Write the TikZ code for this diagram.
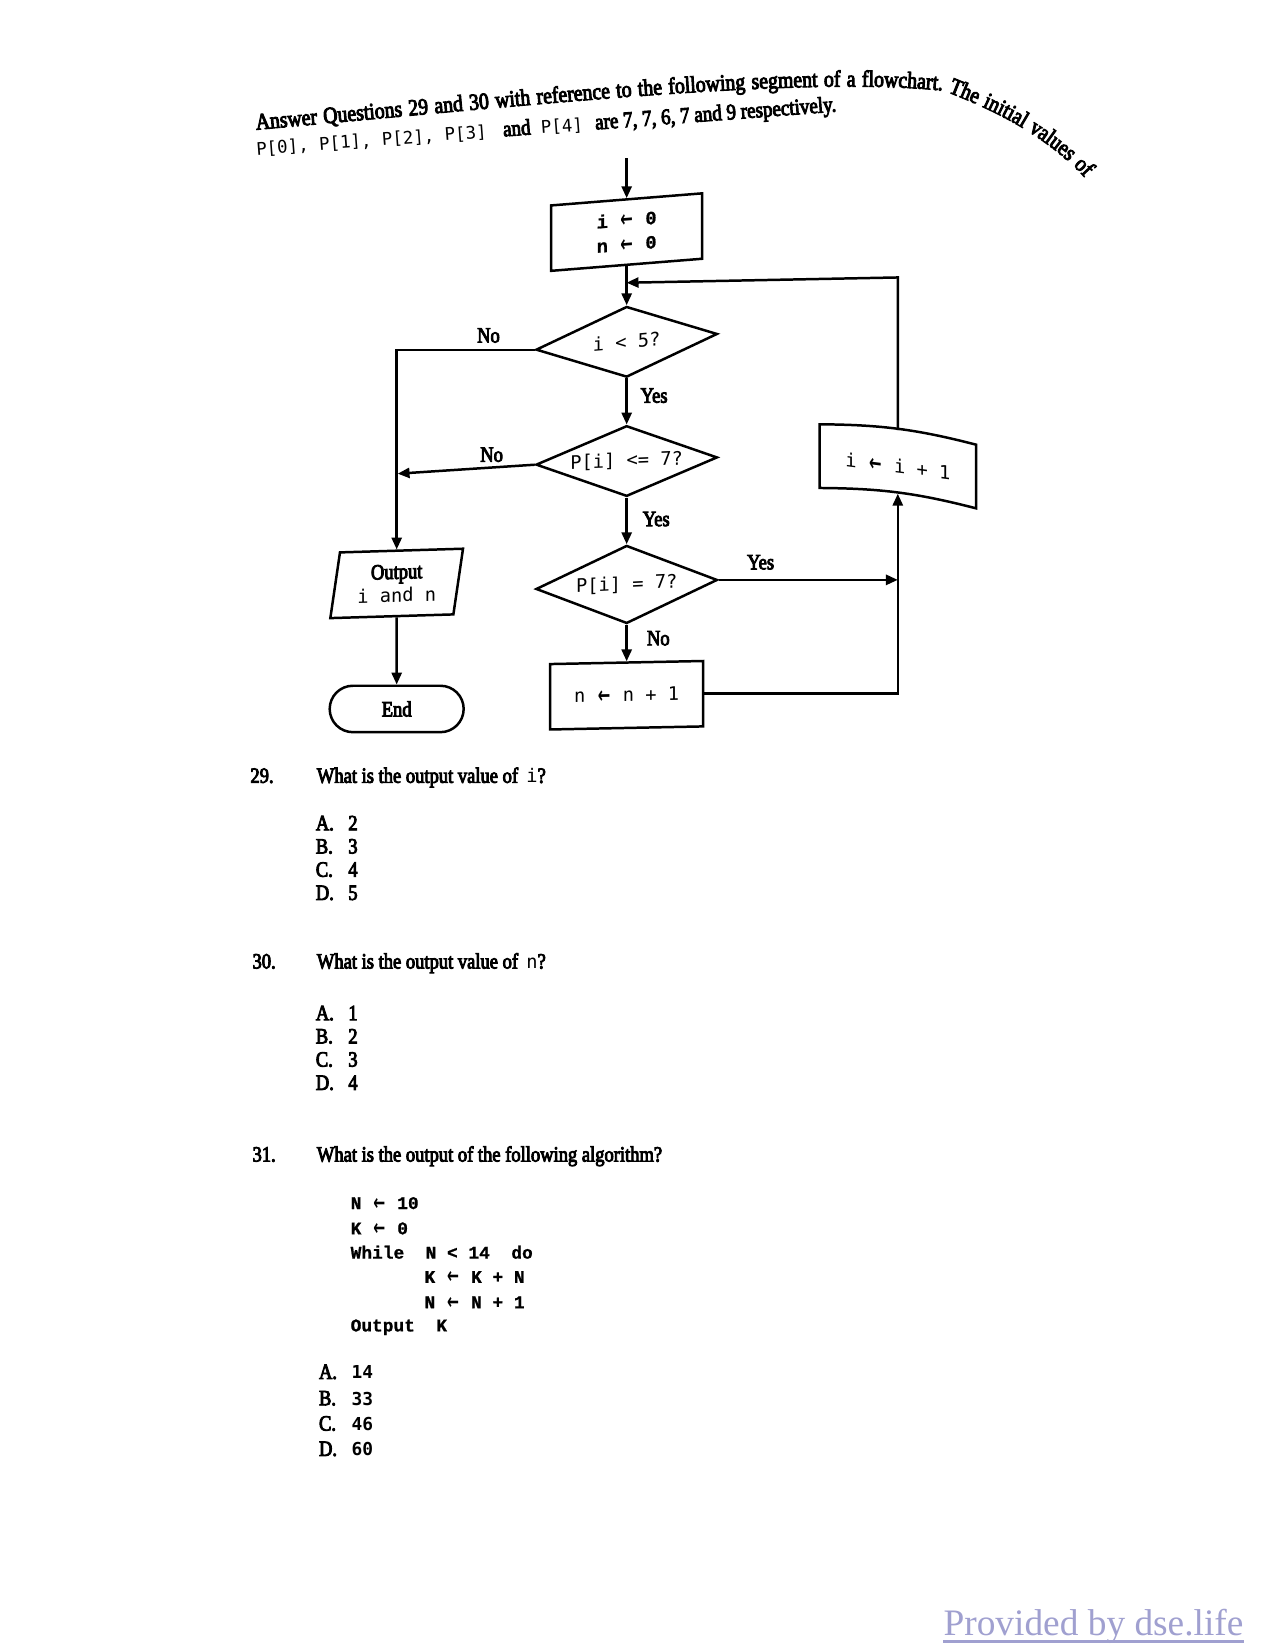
\documentclass[tikz,border=0pt]{standalone}
\usepackage{fontspec}
\usepackage{graphicx}
\setmainfont[FakeStretch=0.85,FakeBold=4]{Liberation Serif}
\newfontfamily\mono{DejaVu Sans Mono}
\newfontfamily\cmono[FakeBold=1]{Liberation Mono}
\newfontfamily\arrfont{DejaVu Sans}
\newfontfamily\footfont{Liberation Serif}
\usetikzlibrary{arrows.meta,shapes.geometric,shapes.misc,decorations.text}
\def\PX{0.17865mm}
\newcommand\la{\hspace{0.6pt}\raisebox{-0.5pt}{\scalebox{0.8}[1.25]{\arrfont\bfseries ←}}\hspace{0.6pt}}
\definecolor{footcol}{RGB}{160,160,208}
\tikzset{
  flow/.style={line width=1.2pt, black},
  arr/.style={flow, -{Triangle[length=2mm,width=1.7mm]}},
  procbox/.style={draw, flow, rectangle, minimum width=145*\PX, minimum height=62*\PX, inner sep=0pt, font=\mono\fontsize{9}{11.7}\selectfont, align=center},
  decision/.style={draw, flow, diamond, aspect=2.57, minimum width=172*\PX, minimum height=67*\PX, inner sep=0pt, font=\mono\fontsize{9}{11}\selectfont},
  iobox/.style={draw, flow, trapezium, trapezium left angle=80, trapezium right angle=100, trapezium stretches=true, minimum width=126*\PX, minimum height=62*\PX, inner sep=0pt, align=center, font=\fontsize{10.5}{11.2}\selectfont},
  terminal/.style={draw, flow, rounded rectangle, minimum width=127*\PX, minimum height=44*\PX, inner sep=0pt, font=\fontsize{10.5}{12}\selectfont},
  lbl/.style={font=\fontsize{10.5}{12}\selectfont, inner sep=0pt},
  qtext/.style={anchor=base west, inner sep=0pt, font=\fontsize{10.5}{12}\selectfont},
  codeline/.style={anchor=base west, inner sep=0pt, font=\cmono\bfseries\fontsize{8.6}{10}\selectfont},
}
\begin{document}
\begin{tikzpicture}[x=\PX,y=-\PX]
\fill[white] (0,0) rectangle (1208.5,1564);
\useasboundingbox (0,0) rectangle (1208.5,1564);

% header, line 1 (curled)
\path[decorate, decoration={text along path, text align={fit to path stretching spaces},
  text={|\fontsize{11.2}{13}\selectfont|Answer Questions 29 and 30 with reference to the following segment of a flowchart. The initial values of}}]
  (243,123) .. controls (520,98) and (760,72) .. (895,86) .. controls (930,100) and (985,122) .. (1028,168);
% header, line 2
\node[anchor=base west, rotate=4.3, inner sep=0pt, font=\fontsize{10.8}{13}\selectfont] (hdr2) at (243,147)
  {{\mono\fontsize{8.4}{10}\selectfont P[0], P[1], P[2], P[3]}\hspace{8pt}and\hspace{5pt}{\mono\fontsize{8.4}{10}\selectfont P[4]}\hspace{6pt}are 7, 7, 6, 7 and 9 respectively.};

% flowchart
\coordinate (start) at (594,150);
\node[procbox, yslant=0.08, minimum width=143*\PX, font=\cmono\bfseries\fontsize{9}{11.7}\selectfont] (init) at (594,220) {i \la\ 0\\n \la\ 0};
\node[decision, yslant=0.087] (d1) at (594,324) {i < 5?};
\node[decision, yslant=0.04] (d2) at (594,437) {P[i] <= 7?};
\node[decision, yslant=0.05, minimum height=74*\PX, aspect=2.3] (d3) at (594,554) {P[i] = 7?};
\node[procbox, yslant=0.02] (inc) at (594,659) {n \la\ n + 1};
\node[procbox, draw=none, yslant=-0.13, minimum width=146*\PX, minimum height=58*\PX] (ii) at (851,442) {i \la\ i + 1};
\draw[flow] (ii.north west) to[bend left=7] (ii.north east) -- (ii.south east) to[bend right=7] (ii.south west) -- cycle;
\node[iobox, yslant=0.03] (out) at (376,553) {Output\\{\mono\fontsize{9}{11}\selectfont i and n}};
\node[terminal] (end) at (376,672) {End};

\coordinate (merge) at (594,268);
\coordinate (loopc) at (851,263);
\coordinate (no2end) at (377,449);

\draw[arr] (start) -- (init);
\draw[arr] (init) -- (d1);
\draw[arr] ([yshift=0.75mm]ii.north) -- (loopc) -- (merge);
\draw[arr] (d1) -- (d2);
\draw[arr] (d2) -- (d3);
\draw[arr] (d3) -- (inc);
\draw[arr] (d1.west) -- (d1.west -| out.north) -- (out.north);
\draw[arr] (d2.west) -- (no2end);
\draw[arr] (d3.east) -- (d3.east -| ii.south);
\draw[arr] (inc.east) -| ([yshift=0.75mm]ii.south);
\draw[arr] (out) -- (end);

\node[lbl] (no1) at (463,318) {No};
\node[lbl] (yes1) at (620,375) {Yes};
\node[lbl] (no2) at (466,431) {No};
\node[lbl] (yes2) at (622,492) {Yes};
\node[lbl] (yes3) at (721,533) {Yes};
\node[lbl] (no3) at (624,605) {No};

% question 29
\node[qtext] (q29n) at (237,742) {29.};
\node[qtext] (q29) at (300,742) {What is the output value of\hspace{4pt}{\mono\fontsize{9}{11}\selectfont i}?};
\node[qtext] (q29a) at (299,787) {\makebox[5.5mm][l]{A.}2};
\node[qtext] (q29b) at (299,809) {\makebox[5.5mm][l]{B.}3};
\node[qtext] (q29c) at (299,831) {\makebox[5.5mm][l]{C.}4};
\node[qtext] (q29d) at (299,853) {\makebox[5.5mm][l]{D.}5};

% question 30
\node[qtext] (q30n) at (239,918) {30.};
\node[qtext] (q30) at (300,918) {What is the output value of\hspace{4pt}{\mono\fontsize{9}{11}\selectfont n}?};
\node[qtext] (q30a) at (299,967) {\makebox[5.5mm][l]{A.}1};
\node[qtext] (q30b) at (299,989) {\makebox[5.5mm][l]{B.}2};
\node[qtext] (q30c) at (299,1011) {\makebox[5.5mm][l]{C.}3};
\node[qtext] (q30d) at (299,1033) {\makebox[5.5mm][l]{D.}4};

% question 31
\node[qtext] (q31n) at (239,1101) {31.};
\node[qtext] (q31) at (300,1101) {What is the output of the following algorithm?};
\node[codeline] (c1) at (332,1146) {N \la\ 10};
\node[codeline] (c2) at (332,1170) {K \la\ 0};
\node[codeline] (c3) at (332,1193) {While\ \ N < 14\ \ do};
\node[codeline] (c4) at (402,1216) {K \la\ K + N};
\node[codeline] (c5) at (402,1240) {N \la\ N + 1};
\node[codeline] (c6) at (332,1262) {Output\ \ K};
\node[qtext] (q31a) at (302,1307) {\makebox[5.5mm][l]{A.}{\mono\bfseries\fontsize{8.6}{10}\selectfont 14}};
\node[qtext] (q31b) at (302,1332) {\makebox[5.5mm][l]{B.}{\mono\bfseries\fontsize{8.6}{10}\selectfont 33}};
\node[qtext] (q31c) at (302,1356) {\makebox[5.5mm][l]{C.}{\mono\bfseries\fontsize{8.6}{10}\selectfont 46}};
\node[qtext] (q31d) at (302,1380) {\makebox[5.5mm][l]{D.}{\mono\bfseries\fontsize{8.6}{10}\selectfont 60}};

% footer
\node[anchor=base west, inner sep=0pt, font=\footfont\fontsize{18}{21}\selectfont, text=footcol] (foot) at (894,1550) {Provided by dse.life};
\draw[footcol, line width=1.1pt] ([yshift=-3pt]foot.base west) -- ([yshift=-3pt]foot.base east);
\end{tikzpicture}
\end{document}
